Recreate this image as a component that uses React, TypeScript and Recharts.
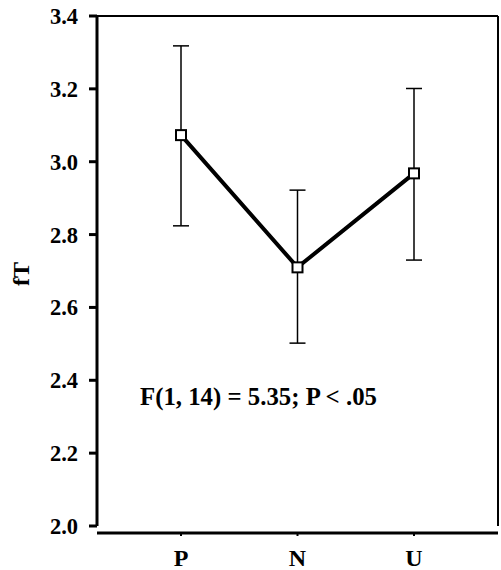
import React from 'react';
import { LineChart, Line, XAxis, YAxis, ErrorBar, Customized } from 'recharts';

// Condition means of fT with asymmetric error extents [below, above]
const conditions = ['P', 'N', 'U'];
const means = [3.073, 2.71, 2.968];
const errLow = [0.249, 0.208, 0.238];
const errHigh = [0.245, 0.212, 0.233];
const yTicks = [2.0, 2.2, 2.4, 2.6, 2.8, 3.0, 3.2, 3.4];

const data = conditions.map((c, i) => ({
  cond: c,
  fT: means[i],
  err: [errLow[i], errHigh[i]],
}));

const FONT = '"Liberation Serif", "Times New Roman", Times, serif';

const SquareDot = (props: any) => {
  const { cx, cy } = props;
  if (cx == null || cy == null) return null;
  return (
    <rect x={cx - 5} y={cy - 5} width={10} height={10} fill="#fff" stroke="#000" strokeWidth={2} />
  );
};

const BottomTick = (props: any) => {
  const { x, y, payload } = props;
  return (
    <g>
      <line x1={x} x2={x} y1={y + 7} y2={y + 10} stroke="#000" strokeWidth={2} />
      <text
        x={x}
        y={y + 40}
        textAnchor="middle"
        fontFamily={FONT}
        fontWeight="bold"
        fontSize={24}
        fill="#000"
      >
        {payload.value}
      </text>
    </g>
  );
};

const Annotations = () => (
  <g>
    <text
      x={29}
      y={274}
      transform="rotate(-90, 29, 274)"
      textAnchor="middle"
      fontFamily={FONT}
      fontWeight="bold"
      fontSize={24}
      fill="#000"
    >
      fT
    </text>
    <text x={140} y={405} fontFamily={FONT} fontWeight="bold" fontSize={24.8} fill="#000">
      F(1, 14) = 5.35; P &lt; .05
    </text>
  </g>
);

export default function App() {
  return (
    <div style={{ position: 'absolute', left: 0, top: 0, background: '#fff' }}>
      <LineChart
        width={501}
        height={570}
        data={data}
        margin={{ top: 15, right: 2, left: 0, bottom: 0 }}
      >
        <XAxis
          xAxisId="b"
          dataKey="cond"
          orientation="bottom"
          height={44}
          padding={{ left: 84, right: 84 }}
          axisLine={{ stroke: '#000', strokeWidth: 3, transform: 'translate(0,7)' }}
          tickLine={false}
          tickSize={0}
          tickMargin={0}
          tick={<BottomTick />}
          interval={0}
        />
        <XAxis
          xAxisId="t"
          dataKey="cond"
          orientation="top"
          height={1}
          padding={{ left: 84, right: 84 }}
          axisLine={{ stroke: '#000', strokeWidth: 2 }}
          tickLine={{ stroke: '#000', strokeWidth: 2 }}
          tickSize={3}
          tick={false}
          interval={0}
        />
        <YAxis
          yAxisId="l"
          orientation="left"
          width={97}
          domain={[2, 3.4]}
          ticks={yTicks}
          type="number"
          interval={0}
          allowDataOverflow
          axisLine={{ stroke: '#000', strokeWidth: 3 }}
          tickLine={{ stroke: '#000', strokeWidth: 3 }}
          tickSize={8}
          tickMargin={11}
          tickFormatter={(v: number) => v.toFixed(1)}
          tick={{ fill: '#000', fontFamily: FONT, fontWeight: 'bold', fontSize: 22.5 }}
        />
        <YAxis
          yAxisId="r"
          orientation="right"
          width={1}
          domain={[2, 3.4]}
          ticks={yTicks}
          type="number"
          interval={0}
          allowDataOverflow
          axisLine={{ stroke: '#000', strokeWidth: 2 }}
          tickLine={{ stroke: '#000', strokeWidth: 2 }}
          tickSize={2}
          tick={false}
        />
        <Line
          xAxisId="b"
          yAxisId="l"
          dataKey="fT"
          stroke="#000"
          strokeWidth={4}
          type="linear"
          dot={<SquareDot />}
          activeDot={false}
          isAnimationActive={false}
        >
          <ErrorBar dataKey="err" width={8} stroke="#000" strokeWidth={1.5} direction="y" />
        </Line>
        <Customized component={Annotations} />
      </LineChart>
    </div>
  );
}
